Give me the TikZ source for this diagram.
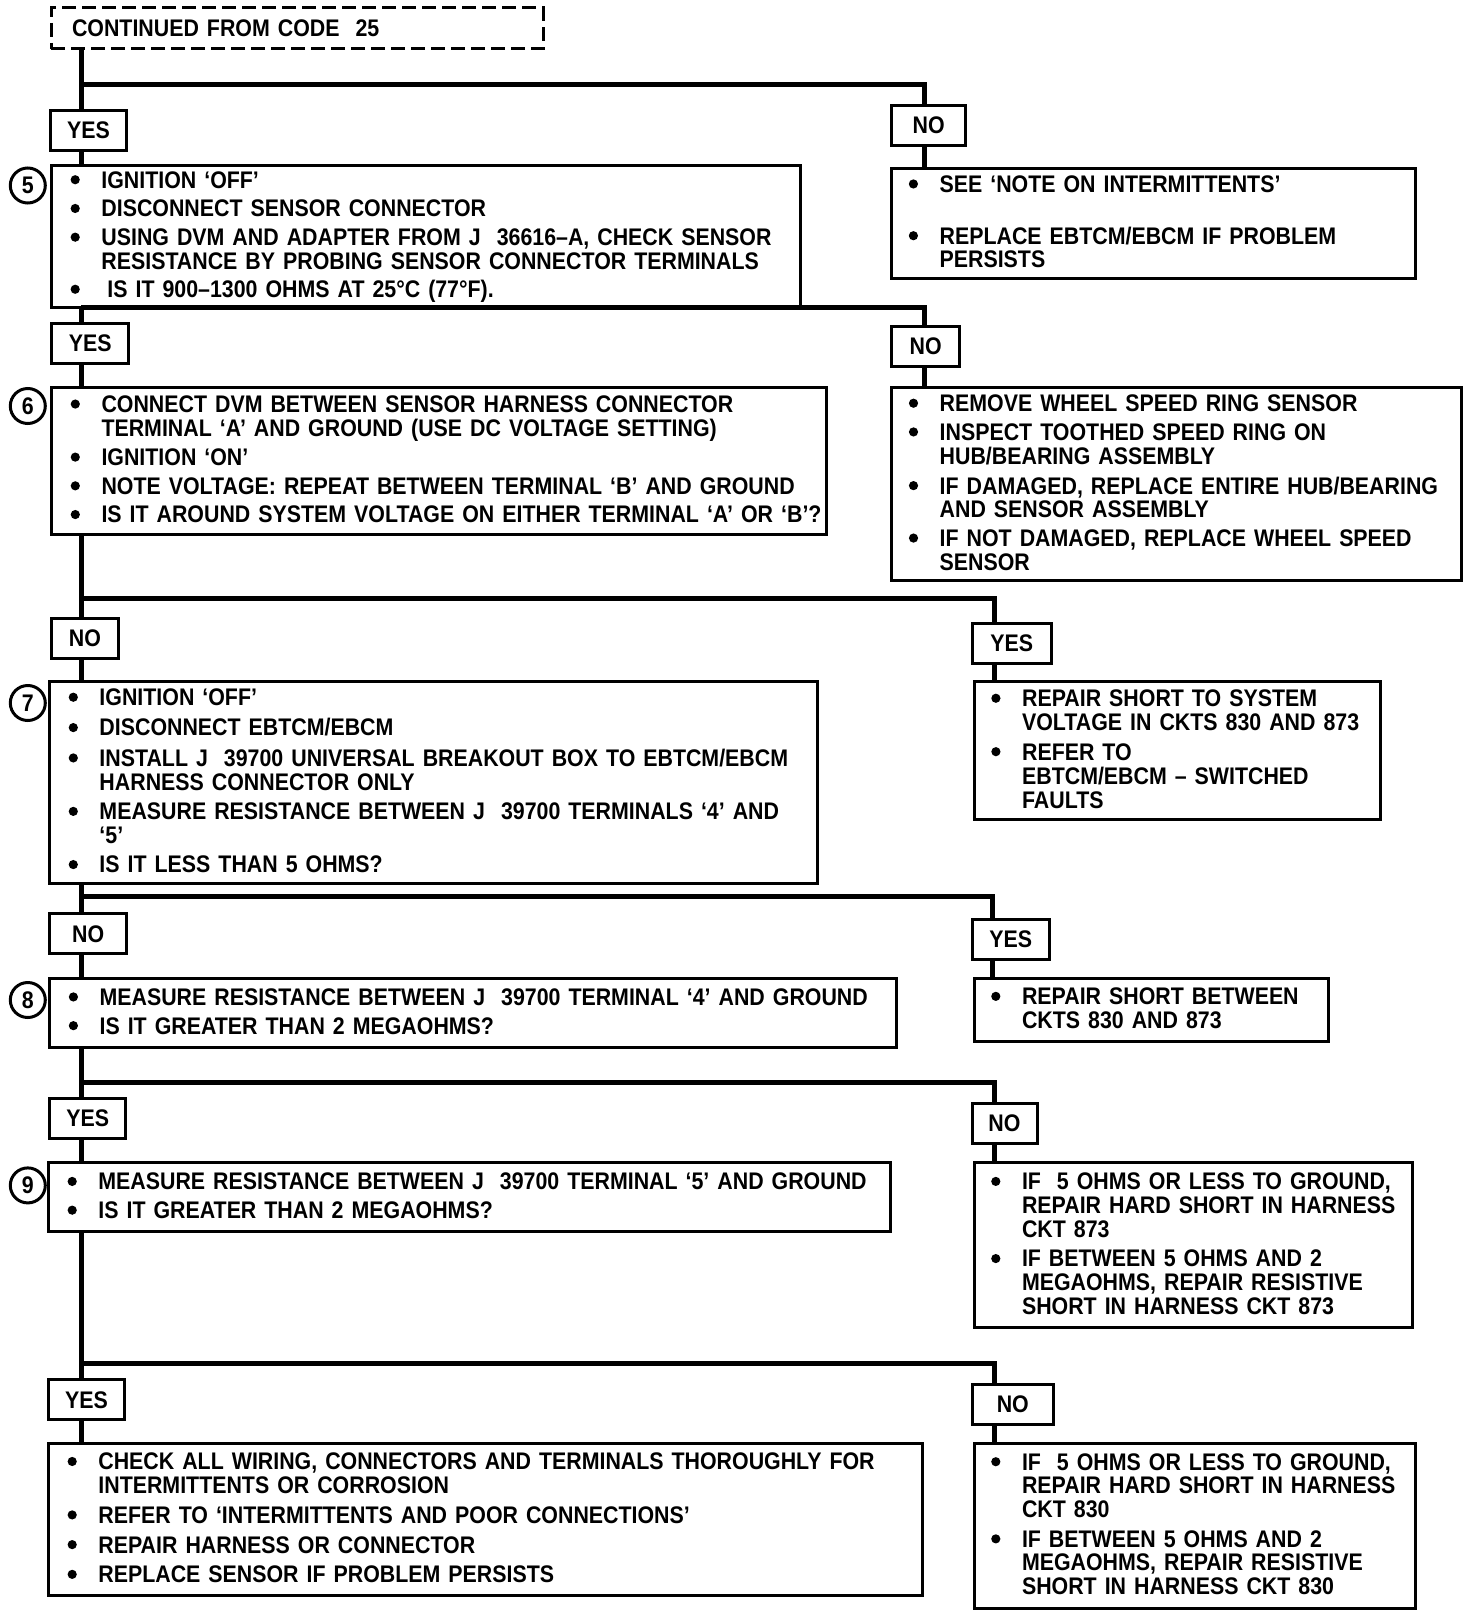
\documentclass[tikz,border=0pt]{standalone}
\usepackage{fontspec}
\setmainfont{Liberation Sans}[FakeStretch=0.89]
\newcommand\bul{\hspace{0.6pt}\tikz[baseline=-4.2pt]\fill (0,0) circle (2.3pt);}
\newenvironment{checks}{\begin{tabular}{@{}p{16pt}@{}l@{}}\noalign{\vskip 2pt}}{\end{tabular}}

\begin{document}
\begin{tikzpicture}[x=0.5pt, y=-0.5pt, font=\bfseries\fontsize{12}{11.6}\selectfont,
  box/.style={draw, line width=1.5pt, align=left, inner xsep=9pt, inner ysep=0pt},
  yn/.style={draw, line width=1.5pt, minimum width=38pt, minimum height=20pt, inner sep=0pt},
  num/.style={draw, circle, line width=1.5pt, minimum size=17.5pt, inner sep=0pt},
  link/.style={line width=2.5pt}]
\fill[white] (0,0) rectangle (1472,1616);
\useasboundingbox (0,0) rectangle (1472,1616);

% start
\node[draw, line width=1.5pt, dash pattern=on 7pt off 3pt, text width=225pt, inner xsep=10.5pt, minimum height=20.5pt, align=left] (start) at (297,28.5) {CONTINUED FROM CODE~~25};

% step 5
\node[yn] (yes1) at (88.6,130.7) {YES};
\node[yn, minimum width=37pt] (no1) at (928.7,125.2) {NO};
\node[box, text width=356.3pt, minimum height=71pt] (s5) at (425.7,236) {\begin{checks}
\bul & IGNITION `OFF' \\[2.5pt]
\bul & DISCONNECT SENSOR CONNECTOR \\[2.5pt]
\bul & USING DVM AND ADAPTER FROM J~~36616--A, CHECK SENSOR \\
 & RESISTANCE BY PROBING SENSOR CONNECTOR TERMINALS \\[2pt]
\bul & \hspace{3pt}IS IT 900--1300 OHMS AT 25°C (77°F).
\end{checks}};
\node[num] (c5) at (27.8,185.5) {5};
\node[box, inner xsep=8pt, text width=245.9pt, minimum height=55.2pt] (r1) at (1153.5,223.2) {\begin{checks}
\bul & SEE `NOTE ON INTERMITTENTS' \\[13.7pt]
\bul & REPLACE EBTCM/EBCM IF PROBLEM \\
 & PERSISTS
\end{checks}};

% step 6
\node[yn, minimum width=38.5pt] (yes2) at (90.2,343.3) {YES};
\node[yn, minimum width=34pt] (no2) at (925.7,346.4) {NO};
\node[box, text width=369.6pt, minimum height=73.2pt] (s6) at (439.1,460.8) {\begin{checks}
\bul & CONNECT DVM BETWEEN SENSOR HARNESS CONNECTOR \\
 & TERMINAL `A' AND GROUND (USE DC VOLTAGE SETTING) \\[2.5pt]
\bul & IGNITION `ON' \\[2.5pt]
\bul & NOTE VOLTAGE: REPEAT BETWEEN TERMINAL `B' AND GROUND \\[2.5pt]
\bul & IS IT AROUND SYSTEM VOLTAGE ON EITHER TERMINAL `A' OR `B'?
\end{checks}};
\node[num] (c6) at (27.8,406) {6};
\node[box, inner xsep=8pt, text width=269pt, minimum height=96.4pt] (r2) at (1176.7,484) {\begin{checks}
\bul & REMOVE WHEEL SPEED RING SENSOR \\[2.5pt]
\bul & INSPECT TOOTHED SPEED RING ON \\
 & HUB/BEARING ASSEMBLY \\[2.5pt]
\bul & IF DAMAGED, REPLACE ENTIRE HUB/BEARING \\
 & AND SENSOR ASSEMBLY \\[2.5pt]
\bul & IF NOT DAMAGED, REPLACE WHEEL SPEED \\
 & SENSOR
\end{checks}};

% step 7
\node[yn, minimum width=33.5pt] (no3) at (85,638) {NO};
\node[yn, minimum width=39.5pt] (yes3) at (1011.7,643.2) {YES};
\node[box, text width=366pt, minimum height=101pt] (s7) at (433.5,782.4) {\begin{checks}
\bul & IGNITION `OFF' \\[3pt]
\bul & DISCONNECT EBTCM/EBCM \\[3pt]
\bul & INSTALL J~~39700 UNIVERSAL BREAKOUT BOX TO EBTCM/EBCM \\
 & HARNESS CONNECTOR ONLY \\[3pt]
\bul & MEASURE RESISTANCE BETWEEN J~~39700 TERMINALS `4' AND \\
 & `5' \\[3pt]
\bul & IS IT LESS THAN 5 OHMS?
\end{checks}};
\node[num] (c7) at (27.8,703) {7};
\node[box, inner xsep=8pt, text width=187pt, minimum height=69pt] (r3) at (1177.1,750.5) {\begin{checks}
\bul & REPAIR SHORT TO SYSTEM \\
 & VOLTAGE IN CKTS 830 AND 873 \\[3pt]
\bul & REFER TO \\
 & EBTCM/EBCM -- SWITCHED \\
 & FAULTS
\end{checks}};

% step 8
\node[yn, minimum width=38.5pt] (no4) at (88.2,933.9) {NO};
\node[yn, minimum width=38.5pt] (yes4) at (1010.7,939) {YES};
\node[box, text width=405.6pt, minimum height=34.5pt] (s8) at (473.2,1012.8) {\begin{checks}
\bul & MEASURE RESISTANCE BETWEEN J~~39700 TERMINAL `4' AND GROUND \\[2.5pt]
\bul & IS IT GREATER THAN 2 MEGAOHMS?
\end{checks}};
\node[num] (c8) at (27.8,1000) {8};
\node[box, inner xsep=8pt, text width=161.4pt, minimum height=31.5pt] (r4) at (1151.4,1009.7) {\begin{checks}
\bul & REPAIR SHORT BETWEEN \\
 & CKTS 830 AND 873
\end{checks}};

% step 9
\node[yn] (yes5) at (87.7,1118.4) {YES};
\node[yn, minimum width=32.5pt] (no5) at (1004.5,1123.6) {NO};
\node[box, text width=403.1pt, minimum height=34.5pt] (s9) at (469.5,1197.3) {\begin{checks}
\bul & MEASURE RESISTANCE BETWEEN J~~39700 TERMINAL `5' AND GROUND \\[2.5pt]
\bul & IS IT GREATER THAN 2 MEGAOHMS?
\end{checks}};
\node[num] (c9) at (27.8,1185.4) {9};
\node[box, inner xsep=8pt, text width=203.1pt, minimum height=82.5pt] (r5) at (1193.1,1245.2) {\begin{checks}
\bul & IF~~5 OHMS OR LESS TO GROUND, \\
 & REPAIR HARD SHORT IN HARNESS \\
 & CKT 873 \\[3pt]
\bul & IF BETWEEN 5 OHMS AND 2 \\
 & MEGAOHMS, REPAIR RESISTIVE \\
 & SHORT IN HARNESS CKT 873
\end{checks}};

% end of chart
\node[yn] (yes6) at (86.6,1399.8) {YES};
\node[yn, minimum width=40.5pt] (no6) at (1012.8,1404.5) {NO};
\node[box, text width=419.1pt, minimum height=76.4pt] (s10) at (485.5,1519.4) {\begin{checks}
\bul & CHECK ALL WIRING, CONNECTORS AND TERMINALS THOROUGHLY FOR \\
 & INTERMITTENTS OR CORROSION \\[3pt]
\bul & REFER TO `INTERMITTENTS AND POOR CONNECTIONS' \\[3pt]
\bul & REPAIR HARNESS OR CONNECTOR \\[3pt]
\bul & REPLACE SENSOR IF PROBLEM PERSISTS
\end{checks}};
\node[box, inner xsep=8pt, text width=204.7pt, minimum height=82.5pt] (r6) at (1194.7,1525.5) {\begin{checks}
\bul & IF~~5 OHMS OR LESS TO GROUND, \\
 & REPAIR HARD SHORT IN HARNESS \\
 & CKT 830 \\[3pt]
\bul & IF BETWEEN 5 OHMS AND 2 \\
 & MEGAOHMS, REPAIR RESISTIVE \\
 & SHORT IN HARNESS CKT 830
\end{checks}};

% branch points
\coordinate (b1) at (81,84.5);    \coordinate (b1r) at (924.6,84.5);
\coordinate (b2) at (81,307);     \coordinate (b2r) at (924.6,307);
\coordinate (b3) at (81,598);     \coordinate (b3r) at (994.7,598);
\coordinate (b4) at (81,896.8);   \coordinate (b4r) at (992.7,896.8);
\coordinate (b5) at (81,1082.3);  \coordinate (b5r) at (994.7,1082.3);
\coordinate (b6) at (81,1363.7);  \coordinate (b6r) at (994.7,1363.7);

\draw[link] (start.south -| b1) -- (b1) -- (b1r) -- (no1.north -| b1r);
\draw[link] (b1) -- (yes1.north -| b1);
\draw[link] (yes1.south -| b1) -- (s5.north -| b1);
\draw[link] (no1.south -| b1r) -- (r1.north -| b1r);

\draw[link] (b2) -- (b2r) -- (no2.north -| b2r);
\draw[link] (s5.south -| b2) -- (yes2.north -| b2);
\draw[link] (yes2.south -| b2) -- (s6.north -| b2);
\draw[link] (no2.south -| b2r) -- (r2.north -| b2r);

\draw[link] (s6.south -| b3) -- (b3) -- (b3r) -- (yes3.north -| b3r);
\draw[link] (b3) -- (no3.north -| b3);
\draw[link] (no3.south -| b3) -- (s7.north -| b3);
\draw[link] (yes3.south -| b3r) -- (r3.north -| b3r);

\draw[link] (s7.south -| b4) -- (b4) -- (b4r) -- (yes4.north -| b4r);
\draw[link] (b4) -- (no4.north -| b4);
\draw[link] (no4.south -| b4) -- (s8.north -| b4);
\draw[link] (yes4.south -| b4r) -- (r4.north -| b4r);

\draw[link] (s8.south -| b5) -- (b5) -- (b5r) -- (no5.north -| b5r);
\draw[link] (b5) -- (yes5.north -| b5);
\draw[link] (yes5.south -| b5) -- (s9.north -| b5);
\draw[link] (no5.south -| b5r) -- (r5.north -| b5r);

\draw[link] (s9.south -| b6) -- (b6) -- (b6r) -- (no6.north -| b6r);
\draw[link] (b6) -- (yes6.north -| b6);
\draw[link] (yes6.south -| b6) -- (s10.north -| b6);
\draw[link] (no6.south -| b6r) -- (r6.north -| b6r);
\end{tikzpicture}
\end{document}
